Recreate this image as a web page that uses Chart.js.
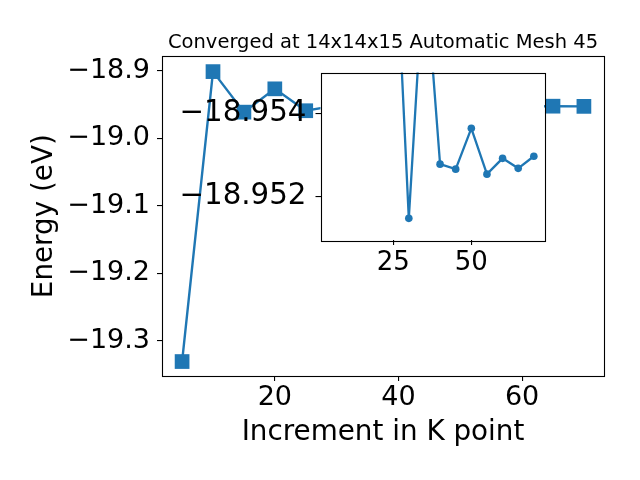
<!DOCTYPE html>
<html>
<head>
<meta charset="utf-8">
<script src="https://cdn.jsdelivr.net/npm/chart.js@4/dist/chart.umd.min.js"></script>
<style>
html, body { margin: 0; padding: 0; background: #fff; }
#wrap { position: relative; width: 640px; height: 480px; }
#wrap canvas { position: absolute; left: 0; top: 0; }
</style>
</head>
<body>
<div id="wrap">
    <canvas id="main" width="640" height="480"></canvas>
    <canvas id="inset" width="640" height="480"></canvas>
</div>
<script>
// k point increments and total energies (eV)
const kPoints = [5, 10, 15, 20, 25, 30, 35, 40, 45, 50, 55, 60, 65, 70];
const energies = [-19.3306, -18.9015, -18.9615, -18.927, -18.9594, -18.95148, -18.9577,
    -18.95278, -18.95266, -18.95364, -18.95254, -18.95292, -18.95268, -18.95297];

// the inset only shows the tail, from 25 onwards
const insetFrom = 4;
const insetK = kPoints.slice(insetFrom);
const insetE = energies.slice(insetFrom);

const mainXTicks = [20, 40, 60];
const mainYTicks = [-19.3, -19.2, -19.1, -19.0, -18.9];
const insetXTicks = [25, 50];
const insetYTicks = [-18.954, -18.952];

const blue = '#1f77b4';
const font = 'DejaVu Sans';
Chart.defaults.color = '#000';
Chart.defaults.font.family = font;

function minus(v, digits) {
    return (v < 0 ? '\u2212' : '') + Math.abs(v).toFixed(digits);
}

// full box round the plot area, white behind it when asked
const boxPlugin = {
    id: 'box',
    beforeDraw(chart, args, opts) {
        if (!opts.fill) return;
        const a = chart.chartArea;
        chart.ctx.save();
        chart.ctx.fillStyle = '#fff';
        chart.ctx.fillRect(a.left, a.top, a.right - a.left, a.bottom - a.top);
        chart.ctx.restore();
    },
    afterDraw(chart) {
        const a = chart.chartArea;
        const ctx = chart.ctx;
        ctx.save();
        ctx.strokeStyle = '#000';
        ctx.lineWidth = 1.1;
        ctx.strokeRect(Math.round(a.left) + 0.5, Math.round(a.top) + 0.5,
            Math.round(a.right - a.left), Math.round(a.bottom - a.top));
        ctx.restore();
    }
};

function tickGrid() {
    return { drawOnChartArea: false, drawTicks: true, tickLength: 5, color: '#000', lineWidth: 1.1 };
}

new Chart(document.getElementById('main'), {
    type: 'line',
    data: {
        datasets: [{
            data: kPoints.map((k, i) => ({ x: k, y: energies[i] })),
            borderColor: blue,
            backgroundColor: blue,
            borderWidth: 2.4,
            pointStyle: 'rect',
            pointRadius: 10.4,
            pointBorderWidth: 0,
            tension: 0,
            clip: false
        }]
    },
    options: {
        responsive: false,
        animation: false,
        events: [],
        layout: { padding: { left: 0, right: 36, top: 0, bottom: 0 } },
        plugins: {
            legend: { display: false },
            tooltip: { enabled: false },
            title: {
                display: true,
                fullSize: false,
                text: 'Converged at 14x14x15 Automatic Mesh 45',
                color: '#000',
                font: { size: 19.5, weight: 'normal', lineHeight: 1.2 },
                padding: { top: 31, bottom: 2 }
            },
            box: { fill: false }
        },
        scales: {
            x: {
                type: 'linear',
                min: 1.75,
                max: 73.25,
                afterBuildTicks: s => { s.ticks = mainXTicks.map(v => ({ value: v })); },
                afterFit: s => { s.height = 104; },
                grid: tickGrid(),
                border: { display: false },
                ticks: { font: { size: 27, lineHeight: 1 }, padding: 3, maxRotation: 0, autoSkip: false,
                    callback: v => minus(v, 0) },
                title: { display: true, text: 'Increment in K point',
                    font: { size: 27.8, lineHeight: 1.2 }, padding: { top: 0, bottom: 31 } }
            },
            y: {
                min: -19.352,
                max: -18.879,
                afterBuildTicks: s => { s.ticks = mainYTicks.map(v => ({ value: v })); },
                afterFit: s => { s.width = 162; },
                grid: tickGrid(),
                border: { display: false },
                ticks: { font: { size: 27, lineHeight: 1 }, padding: 7, autoSkip: false,
                    callback: v => minus(v, 1) },
                title: { display: true, text: 'Energy (eV)',
                    font: { size: 27.8, lineHeight: 1.2 }, padding: { top: 28.5, bottom: 0 } }
            }
        }
    },
    plugins: [boxPlugin]
});

new Chart(document.getElementById('inset'), {
    type: 'line',
    data: {
        datasets: [{
            data: insetK.map((k, i) => ({ x: k, y: insetE[i] })),
            borderColor: blue,
            backgroundColor: blue,
            borderWidth: 2.3,
            pointStyle: 'circle',
            pointRadius: 3.8,
            pointBorderWidth: 0,
            tension: 0
        }]
    },
    options: {
        responsive: false,
        animation: false,
        events: [],
        layout: { padding: { left: 0, right: 96, top: 72.5, bottom: 0 } },
        plugins: {
            legend: { display: false },
            tooltip: { enabled: false },
            box: { fill: true }
        },
        scales: {
            x: {
                type: 'linear',
                min: 1.75,
                max: 73.25,
                afterBuildTicks: s => { s.ticks = insetXTicks.map(v => ({ value: v })); },
                afterFit: s => { s.height = 240; },
                grid: tickGrid(),
                border: { display: false },
                ticks: { font: { size: 26, lineHeight: 1 }, padding: 5.5, maxRotation: 0, autoSkip: false,
                    callback: v => minus(v, 0) }
            },
            y: {
                reverse: true,
                min: -18.95498,
                max: -18.95096,
                afterBuildTicks: s => { s.ticks = insetYTicks.map(v => ({ value: v })); },
                afterFit: s => { s.width = 320.5; },
                grid: tickGrid(),
                border: { display: false },
                ticks: { font: { size: 29.3, lineHeight: 1 }, padding: 9, autoSkip: false,
                    callback: v => minus(v, 3) }
            }
        }
    },
    plugins: [boxPlugin]
});
</script>
</body>
</html>
